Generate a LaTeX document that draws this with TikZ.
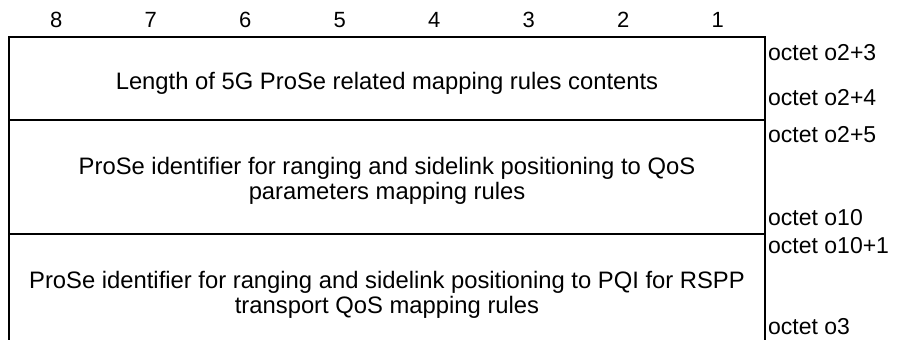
\documentclass[tikz,border=0pt]{standalone}
\usepackage{fontspec}
\setmainfont{Liberation Sans}
\begin{document}
\begin{tikzpicture}[x=1pt,y=-1pt,
    field/.style={align=center,font=\fontsize{23.8}{25}\selectfont},
    octet/.style={anchor=west,inner sep=0pt,font=\fontsize{23}{25}\selectfont},
    bitno/.style={font=\fontsize{22}{24}\selectfont}]
    			\useasboundingbox (0,0) rectangle (897,340);
    			\coordinate (TL) at (9,37);
    			\coordinate (TR) at (765,37);
    			\coordinate (BL) at (9,340);
    			\coordinate (BR) at (765,340);
    			\coordinate (L1) at (9,120);
    			\coordinate (R1) at (765,120);
    			\coordinate (L2) at (9,234);
    			\coordinate (R2) at (765,234);
    			
    			\draw[line width=1.5pt] (BL) -- (TL) -- (TR) -- (BR);
    			\draw[line width=1.5pt] (L1) -- (R1);
    			\draw[line width=1.5pt] (L2) -- (R2);
    			\foreach \bit in {1,...,8}{
    				\node[bitno] (bit\bit) at ({765-94.5*(\bit-0.5)},20) {\bit};
    			}
    			\node[field] (len) at (387,83) {Length of 5G ProSe related mapping rules contents};
    			\node[field] (qos) at (387,181) {ProSe identifier for ranging and sidelink positioning to QoS\\parameters mapping rules};
    			\node[field] (pqi) at (387,295) {ProSe identifier for ranging and sidelink positioning to PQI for RSPP\\transport QoS mapping rules};
    			\foreach \y/\name/\label in {
    				53/oa/o2+3,
    				98/ob/o2+4,
    				135/oc/o2+5,
    				218/od/o10,
    				246/oe/o10+1,
    				327/of/o3
       			}{
    				\node[octet] (\name) at (768,\y) {octet \label};
    			}
    		\end{tikzpicture}
\end{document}
